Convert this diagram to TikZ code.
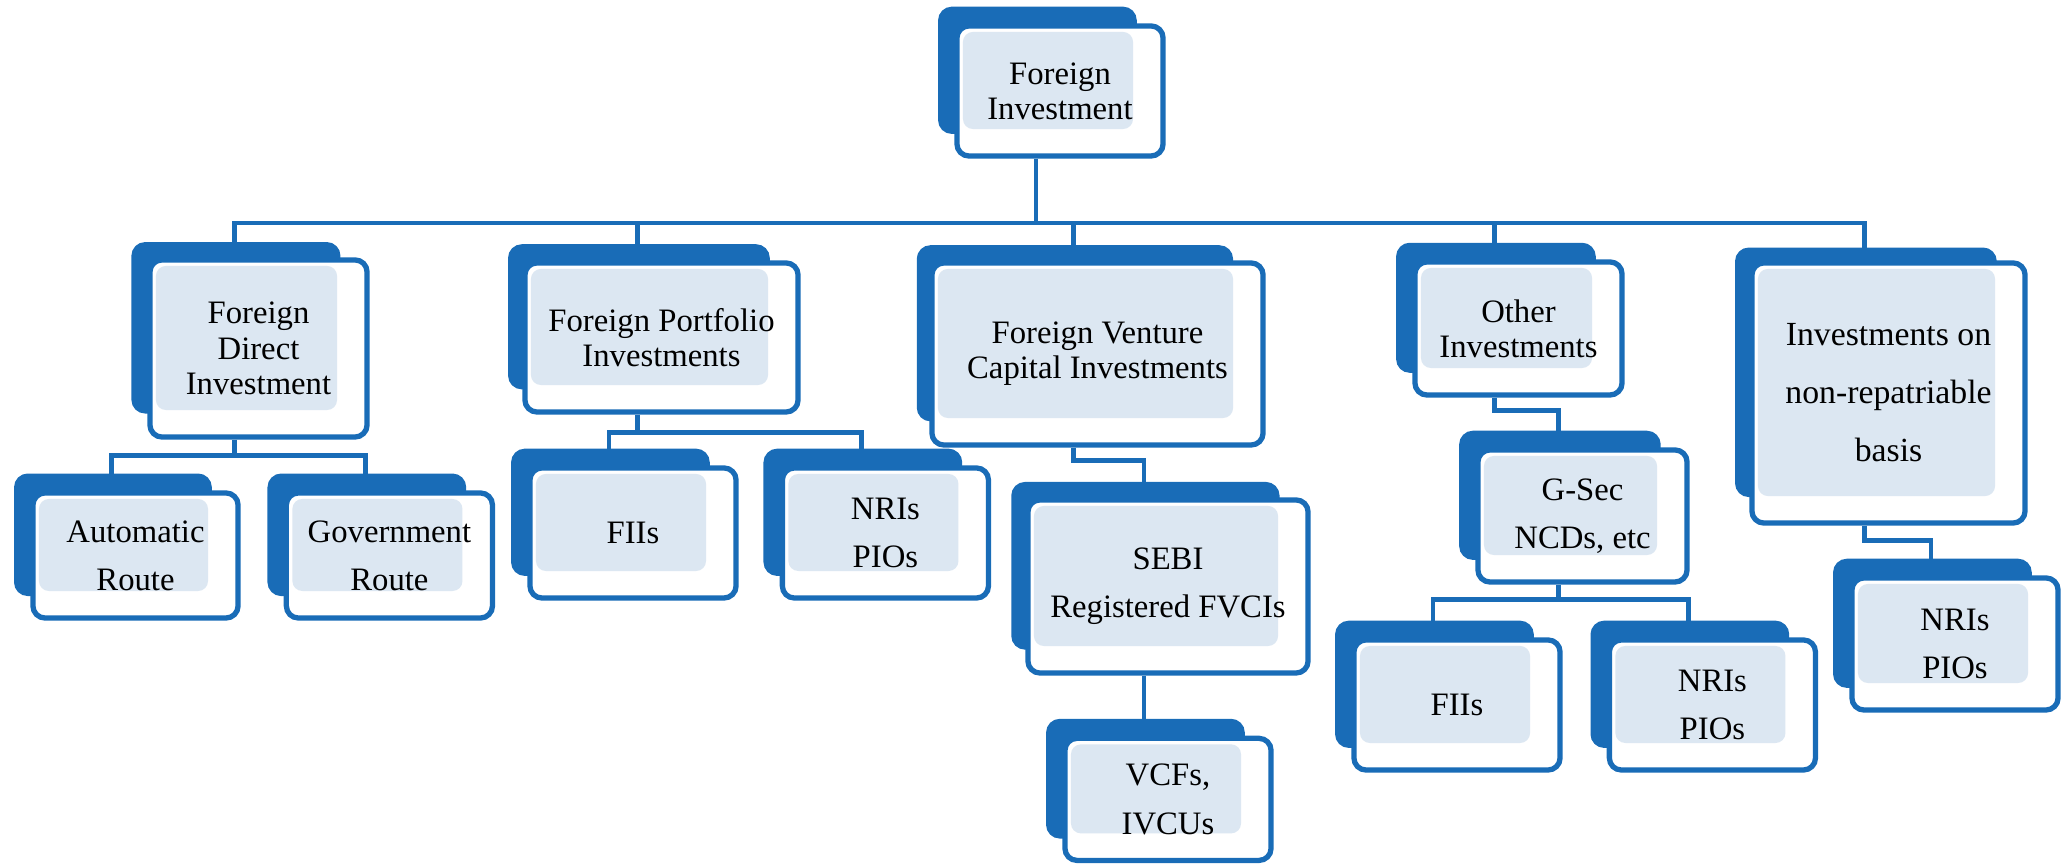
\documentclass[tikz,border=0pt]{standalone}
\usepackage{fontspec}
\setmainfont{Liberation Serif}
\usetikzlibrary{shadows,positioning,backgrounds}
\definecolor{boxblue}{RGB}{25,108,183}
\definecolor{boxlight}{RGB}{220,231,242}

\begin{document}
\begin{tikzpicture}[x=0.01cm,y=-0.01cm,
  invbox/.style={draw=boxblue,line width=1.5pt,fill=white,rounded corners=1.2mm,
    align=center,inner sep=0pt,text=black,
    font=\fontsize{9.3}{10}\selectfont,
    minimum width=2.06cm,minimum height=1.3cm,
    copy shadow={shadow xshift=-2.4mm,shadow yshift=2.2mm,shadow scale=0.94,
      fill=boxblue,draw=boxblue,opacity=1},
    path picture={\fill[boxlight,rounded corners=1mm]
      ([shift={(0.6mm,-0.6mm)}]path picture bounding box.north west) rectangle
      ([shift={(-3mm,2.7mm)}]path picture bounding box.south east);}},
  wide/.style={font=\fontsize{9.3}{13.7}\selectfont},
  conn/.style={draw=boxblue,line width=1.35pt}]

  \useasboundingbox (0,0) rectangle (2069,865);

  \node[invbox] (root) at (1060,91) {Foreign\\Investment};

  \node[invbox,minimum width=2.17cm,minimum height=1.77cm] (fdi) at (258.5,348.5) {Foreign\\Direct\\Investment};
  \node[invbox,minimum width=2.73cm,minimum height=1.49cm] (fpi) at (661.5,337.5) {Foreign Portfolio\\Investments};
  \node[invbox,minimum width=3.31cm,minimum height=1.82cm] (fvci) at (1097.5,354) {Foreign Venture\\Capital Investments};
  \node[invbox,minimum width=2.07cm,minimum height=1.33cm] (oth) at (1518.5,328.5) {Other\\Investments};
  \node[invbox,minimum width=2.73cm,minimum height=2.6cm,font=\fontsize{9.6}{16.5}\selectfont] (nonrep) at (1888.5,393) {Investments on\\non-repatriable\\basis};

  \node[invbox,wide,minimum width=2.05cm,minimum height=1.25cm] (auto) at (135.5,555.5) {Automatic\\Route};
  \node[invbox,wide,minimum height=1.25cm,right=0.43cm of auto] (gov) {Government\\Route};
  \node[invbox] (fii1) at (633,533) {FIIs};
  \node[invbox,wide,right=0.41cm of fii1] (nri1) {NRIs\\PIOs};
  \node[invbox,wide,minimum width=2.8cm,minimum height=1.73cm] (sebi) at (1168,586.5) {SEBI\\Registered FVCIs};
  \node[invbox,wide,minimum height=1.22cm,below=0.6cm of sebi] (vcf) {VCFs,\\IVCUs};
  \node[invbox,wide,minimum width=2.09cm,minimum height=1.32cm] (gsec) at (1582.5,516) {G-Sec\\NCDs, etc};
  \node[invbox] (fii2) at (1457,705) {FIIs};
  \node[invbox,wide,right=0.44cm of fii2] (nri2) {NRIs\\PIOs};
  \node[invbox,wide,minimum height=1.32cm] (nri3) at (1955,644) {NRIs\\PIOs};

  \coordinate (bus) at (0,223);

  \begin{scope}[on background layer]
    % main level
    \draw[conn] ([xshift=-2.4mm]root.south) -- ([xshift=-2.4mm]root.south |- bus);
    \draw[conn] ([xshift=-2.4mm]fdi.north) -- ([xshift=-2.4mm]fdi.north |- bus)
      -- ([xshift=-2.4mm]nonrep.north |- bus) -- ([xshift=-2.4mm]nonrep.north);
    \foreach \n in {fpi,fvci,oth}
      \draw[conn] ([xshift=-2.4mm]\n.north) -- ([xshift=-2.4mm]\n.north |- bus);

    % sub levels
    \draw[conn] ([xshift=-2.4mm]fdi.south) -- ++(0,16) coordinate (fdibus);
    \draw[conn] ([xshift=-2.4mm]auto.north) |- (fdibus) -| ([xshift=-2.4mm]gov.north);
    \draw[conn] ([xshift=-2.4mm]fpi.south) -- ++(0,18) coordinate (fpibus);
    \draw[conn] ([xshift=-2.4mm]fii1.north) |- (fpibus) -| ([xshift=-2.4mm]nri1.north);
    \draw[conn] ([xshift=-2.4mm]fvci.south) -- ++(0,13) -| ([xshift=-2.4mm]sebi.north);
    \draw[conn] ([xshift=-2.4mm]sebi.south) -- ([xshift=-2.4mm]vcf.north);
    \draw[conn] ([xshift=-2.4mm]oth.south) -- ++(0,13) -| ([xshift=-2.4mm]gsec.north);
    \draw[conn] ([xshift=-2.4mm]gsec.south) -- ++(0,15) coordinate (gsecbus);
    \draw[conn] ([xshift=-2.4mm]fii2.north) |- (gsecbus) -| ([xshift=-2.4mm]nri2.north);
    \draw[conn] ([xshift=-2.4mm]nonrep.south) -- ++(0,15) -| ([xshift=-2.4mm]nri3.north);
  \end{scope}

\end{tikzpicture}
\end{document}
